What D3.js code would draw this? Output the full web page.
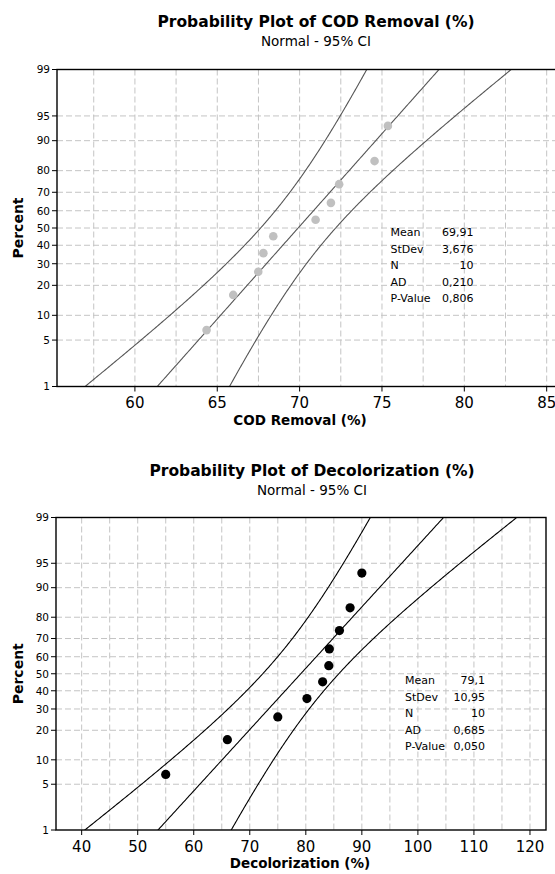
<!DOCTYPE html>
<html>
<head>
<meta charset="utf-8">
<script src="https://cdn.jsdelivr.net/npm/d3@7"></script>
<style>
  body { margin: 0; background: #fff; }
  svg { display: block; }
  text { font-family: "DejaVu Sans", Verdana, sans-serif; fill: #000; }
</style>
</head>
<body>
<svg id="chart" width="555" height="874"></svg>
<script>
// probability axis
const percentTicks = [1, 5, 10, 20, 30, 40, 50, 60, 70, 80, 90, 95, 99];
// plotting positions of the 10 ranked points
const plotPercents = [6.7, 16.3, 26.0, 35.6, 45.2, 54.8, 64.4, 74.0, 83.7, 93.3];

// COD removal
const codValues = [64.35, 65.97, 67.49, 67.8, 68.4, 70.97, 71.9, 72.4, 74.55, 75.36];
const codTicks = [60, 65, 70, 75, 80, 85];
const codFit = [69.91, 3.676];
const codStats = ["69,91", "3,676", "10", "0,210", "0,806"];

// Decolorization
const decolValues = [55.0, 66.0, 75.0, 80.2, 83.0, 84.1, 84.2, 86.0, 87.9, 90.0];
const decolTicks = [40, 50, 60, 70, 80, 90, 100, 110, 120];
const decolFit = [79.1, 10.95];
const decolStats = ["79,1", "10,95", "10", "0,685", "0,050"];

const statLabels = ["Mean", "StDev", "N", "AD", "P-Value"];

// inverse normal cdf (Acklam)
function probit(p) {
    const a = [-39.69683028665376, 220.9460984245205, -275.9285104469687, 138.357751867269, -30.66479806614716, 2.506628277459239];
    const b = [-54.47609879822406, 161.5858368580409, -155.6989798598866, 66.80131188771972, -13.28068155288572];
    const c = [-0.007784894002430293, -0.3223964580411365, -2.400758277161838, -2.549732539343734, 4.374664141464968, 2.938163982698783];
    const d = [0.007784695709041462, 0.3224671290700398, 2.445134137142996, 3.754408661907416];
    const pl = 0.02425;
    let q, r;
    if (p < pl) {
        q = Math.sqrt(-2 * Math.log(p));
        return (((((c[0] * q + c[1]) * q + c[2]) * q + c[3]) * q + c[4]) * q + c[5]) / ((((d[0] * q + d[1]) * q + d[2]) * q + d[3]) * q + 1);
    }
    if (p > 1 - pl) {
        q = Math.sqrt(-2 * Math.log(1 - p));
        return -(((((c[0] * q + c[1]) * q + c[2]) * q + c[3]) * q + c[4]) * q + c[5]) / ((((d[0] * q + d[1]) * q + d[2]) * q + d[3]) * q + 1);
    }
    q = p - 0.5;
    r = q * q;
    return (((((a[0] * r + a[1]) * r + a[2]) * r + a[3]) * r + a[4]) * r + a[5]) * q / (((((b[0] * r + b[1]) * r + b[2]) * r + b[3]) * r + b[4]) * r + 1);
}

const svg = d3.select("#chart");

function drawPanel(cfg, idx) {
    const g = svg.append("g");
    const x = d3.scaleLinear().domain(cfg.xDomain).range([cfg.left, cfg.right]);
    const zScale = d3.scaleLinear().domain([probit(0.01), probit(0.99)]).range([cfg.bottom, cfg.top]);
    const y = p => zScale(probit(p / 100));

    // titles
    g.append("text").attr("x", cfg.titleX).attr("y", cfg.titleY)
        .attr("text-anchor", "middle").style("font-size", "15.5px").style("font-weight", "bold")
        .text(cfg.title);
    g.append("text").attr("x", cfg.titleX).attr("y", cfg.titleY + 19)
        .attr("text-anchor", "middle").style("font-size", "13.5px")
        .text("Normal - 95% CI");

    // grid
    const grid = g.append("g").attr("stroke", "#c4c4c4").attr("stroke-dasharray", "6,3").attr("stroke-width", 1);
    const vGrid = d3.range(cfg.xDomain[0], cfg.xDomain[1], cfg.gridStep / 2)
        .map(v => Math.ceil(v / (cfg.gridStep / 2)) * (cfg.gridStep / 2));
    grid.selectAll("line.v").data(Array.from(new Set(vGrid)).filter(v => x(v) > cfg.left + 1 && x(v) < cfg.right - 1))
        .enter().append("line").attr("class", "v")
        .attr("x1", d => x(d)).attr("x2", d => x(d))
        .attr("y1", cfg.top).attr("y2", cfg.bottom);
    grid.selectAll("line.h").data(percentTicks.slice(1, -1))
        .enter().append("line").attr("class", "h")
        .attr("x1", cfg.left).attr("x2", cfg.right)
        .attr("y1", d => y(d)).attr("y2", d => y(d));

    // fitted line and confidence band
    const clipId = "clip" + idx;
    g.append("clipPath").attr("id", clipId).append("rect")
        .attr("x", cfg.left).attr("y", cfg.top)
        .attr("width", cfg.right - cfg.left).attr("height", cfg.bottom - cfg.top);
    const [mu, sd] = cfg.fit;
    const n = cfg.values.length;
    const zs = d3.range(-3, 3.001, 0.02);
    const band = k => zs.map(z => [mu + z * sd + k * 1.96 * sd * Math.sqrt(1 / n + z * z / (2 * n)), zScale(z)]);
    const line = d3.line().x(d => x(d[0])).y(d => d[1]);
    const lines = g.append("g").attr("clip-path", `url(#${clipId})`)
        .attr("fill", "none").attr("stroke", cfg.lineColor).attr("stroke-width", 1.1);
    [-1, 0, 1].forEach(k => lines.append("path").attr("d", line(band(k))));

    // points
    g.append("g").selectAll("circle").data(cfg.values).enter().append("circle")
        .attr("cx", d => x(d)).attr("cy", (d, i) => y(plotPercents[i]))
        .attr("r", cfg.pointR).attr("fill", cfg.pointColor);

    // frame
    g.append("rect").attr("x", cfg.left).attr("y", cfg.top)
        .attr("width", cfg.right - cfg.left).attr("height", cfg.bottom - cfg.top)
        .attr("fill", "none").attr("stroke", "#000").attr("stroke-width", 1.4);

    // y axis
    const yAxis = g.append("g");
    percentTicks.forEach(p => {
        yAxis.append("line").attr("x1", cfg.left - 5).attr("x2", cfg.left)
            .attr("y1", y(p)).attr("y2", y(p)).attr("stroke", "#000");
        yAxis.append("text").attr("x", cfg.left - 7).attr("y", y(p)).attr("dy", "0.36em")
            .attr("text-anchor", "end").style("font-size", "10.5px").text(p);
    });
    g.append("text").attr("transform", `translate(23,${(cfg.top + cfg.bottom) / 2}) rotate(-90)`)
        .attr("text-anchor", "middle").style("font-size", "14px").style("font-weight", "bold")
        .text("Percent");

    // x axis
    const xAxis = g.append("g");
    cfg.ticks.forEach(t => {
        xAxis.append("line").attr("x1", x(t)).attr("x2", x(t))
            .attr("y1", cfg.bottom).attr("y2", cfg.bottom + 5).attr("stroke", "#000");
        xAxis.append("text").attr("x", x(t)).attr("y", cfg.bottom + 21.5)
            .attr("text-anchor", "middle").style("font-size", "15px").text(t);
    });
    g.append("text").attr("x", cfg.xLabelX).attr("y", cfg.bottom + 38)
        .attr("text-anchor", "middle").style("font-size", "13.5px").style("font-weight", "bold")
        .text(cfg.xLabel);

    // stats box
    const stats = g.append("g").style("font-size", "11px");
    statLabels.forEach((s, i) => {
        stats.append("text").attr("x", cfg.statX).attr("y", cfg.statY + i * 16.6).text(s);
        stats.append("text").attr("x", cfg.statValX).attr("y", cfg.statY + i * 16.6)
            .attr("text-anchor", "end").text(cfg.stats[i]);
    });
}

drawPanel({
    title: "Probability Plot of COD Removal (%)", titleX: 316, titleY: 27,
    left: 57, right: 562, top: 69.5, bottom: 386.5,
    xDomain: [55.27, 85.93], ticks: codTicks, gridStep: 5,
    values: codValues, fit: codFit, stats: codStats,
    lineColor: "#555", pointColor: "#c0c0c0", pointR: 4.3,
    xLabel: "COD Removal (%)", xLabelX: 300,
    statX: 390.5, statValX: 473.5, statY: 236
}, 0);

drawPanel({
    title: "Probability Plot of Decolorization (%)", titleX: 312, titleY: 476,
    left: 56, right: 546, top: 517.5, bottom: 830,
    xDomain: [35.42, 122.86], ticks: decolTicks, gridStep: 10,
    values: decolValues, fit: decolFit, stats: decolStats,
    lineColor: "#000", pointColor: "#000", pointR: 4.6,
    xLabel: "Decolorization (%)", xLabelX: 300,
    statX: 405, statValX: 485, statY: 684
}, 1);
</script>
</body>
</html>
